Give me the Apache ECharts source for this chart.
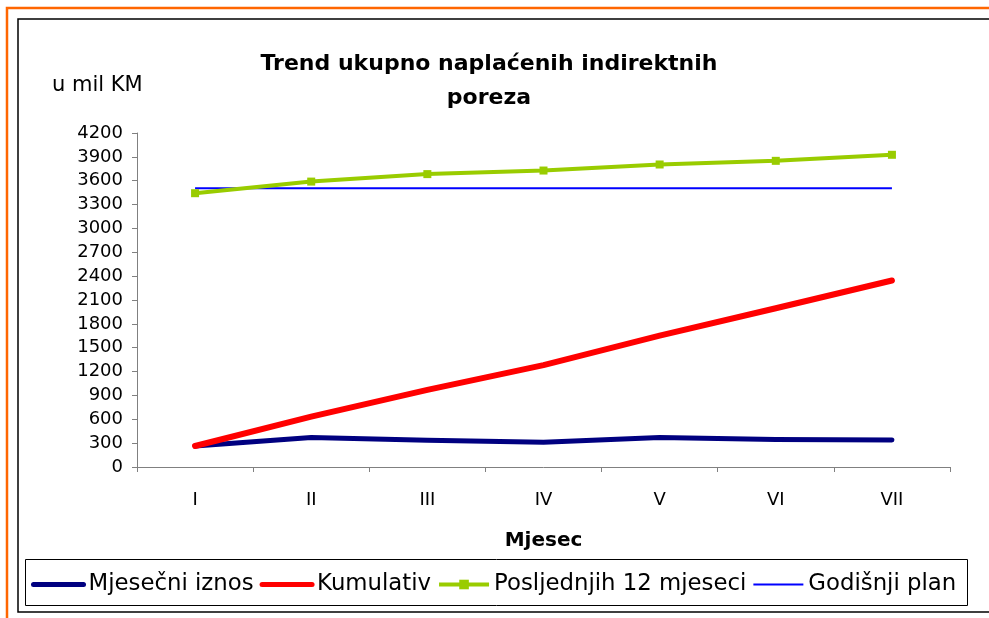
<!DOCTYPE html>
<html>
<head>
<meta charset="utf-8">
<script src="https://cdn.jsdelivr.net/npm/echarts@6/dist/echarts.min.js"></script>
<style>
html,body{margin:0;padding:0;background:#fff;}
#chart{width:989px;height:618px;}
</style>
</head>
<body>
<div id="chart"></div>
<script>
const categories = ["I", "II", "III", "IV", "V", "VI", "VII"];
const mjesecniIznos = [264, 370, 336, 311, 370, 345, 340];
const kumulativ = [264, 634, 970, 1281, 1651, 1996, 2345];
const posljednjih12 = [3443, 3589, 3683, 3728, 3804, 3850, 3926];
const godisnjiPlan = [3505, 3505, 3505, 3505, 3505, 3505, 3505];
const yTicks = { min: 0, max: 4200, interval: 300 };
const titleText = "Trend ukupno naplaćenih indirektnih\nporeza";
const unitText = "u mil KM";
const xName = "Mjesec";
const seriesNames = ["Mjesečni iznos", "Kumulativ", "Posljednjih 12 mjeseci", "Godišnji plan"];

const FONT = "DejaVu Sans";
const chart = echarts.init(document.getElementById('chart'), null, { renderer: 'canvas' });

const option = {
  backgroundColor: '#ffffff',
  animation: false,
  graphic: [
    { type: 'rect', z: 0, shape: { x: 7, y: 8, width: 1000, height: 700 }, style: { fill: 'none', stroke: '#FF6600', lineWidth: 2.5 } },
    { type: 'rect', z: 0, shape: { x: 18, y: 19, width: 1000, height: 593 }, style: { fill: 'none', stroke: '#000000', lineWidth: 1.5 } },
    { type: 'rect', z: 0, shape: { x: 25.5, y: 559.5, width: 942, height: 46 }, style: { fill: 'none', stroke: '#000000', lineWidth: 1 } },
    { type: 'text', z: 10, x: 489, y: 47, style: { text: titleText, fill: '#000', font: 'bold 22px "' + FONT + '"', textAlign: 'center', textVerticalAlign: 'top', lineHeight: 34 } },
    { type: 'text', z: 10, x: 52, y: 86, style: { text: unitText, fill: '#000', font: '21px "' + FONT + '"', textAlign: 'left', textVerticalAlign: 'middle' } }
  ],
  grid: { left: 137, right: 39, top: 133, bottom: 151, containLabel: false },
  legend: {
    left: 26, top: 568,
    itemWidth: 50, itemHeight: 12, itemGap: 6,
    textStyle: { fontFamily: FONT, fontSize: 22.8, color: '#000' },
    data: [
      { name: seriesNames[0], itemStyle: { opacity: 0 }, lineStyle: { width: 5 } },
      { name: seriesNames[1], itemStyle: { opacity: 0 }, lineStyle: { width: 5 } },
      { name: seriesNames[2], lineStyle: { width: 4 } },
      { name: seriesNames[3], itemStyle: { opacity: 0 }, lineStyle: { width: 2 } }
    ]
  },
  xAxis: {
    type: 'category',
    data: categories,
    boundaryGap: true,
    name: xName,
    nameLocation: 'middle',
    nameGap: 64,
    nameTextStyle: { fontFamily: FONT, fontSize: 20, fontWeight: 'bold', color: '#000' },
    axisLine: { lineStyle: { color: '#808080', width: 1 } },
    axisTick: { show: true, alignWithLabel: false, length: 5, lineStyle: { color: '#808080' } },
    axisLabel: { margin: 24, fontFamily: FONT, fontSize: 18, color: '#000' },
    splitLine: { show: false }
  },
  yAxis: {
    type: 'value',
    min: yTicks.min, max: yTicks.max, interval: yTicks.interval,
    axisLine: { show: true, lineStyle: { color: '#808080', width: 1 } },
    axisTick: { show: true, length: 5, lineStyle: { color: '#808080' } },
    axisLabel: { margin: 14, fontFamily: FONT, fontSize: 18, color: '#000', formatter: function (v) { return String(v); } },
    splitLine: { show: false }
  },
  series: [
    { name: seriesNames[0], type: 'line', data: mjesecniIznos, z: 3, symbol: 'none', color: '#000080',
      lineStyle: { color: '#000080', width: 5, cap: 'round', join: 'round' } },
    { name: seriesNames[1], type: 'line', data: kumulativ, z: 4, symbol: 'none', color: '#FF0000',
      lineStyle: { color: '#FF0000', width: 6, cap: 'round', join: 'round' } },
    { name: seriesNames[2], type: 'line', data: posljednjih12, z: 5, symbol: 'rect', symbolSize: 8, color: '#99CC00',
      itemStyle: { color: '#99CC00' },
      lineStyle: { color: '#99CC00', width: 4 } },
    { name: seriesNames[3], type: 'line', data: godisnjiPlan, z: 2, symbol: 'none', color: '#0000FF',
      lineStyle: { color: '#0000FF', width: 2 } }
  ]
};
chart.setOption(option);
</script>
</body>
</html>
